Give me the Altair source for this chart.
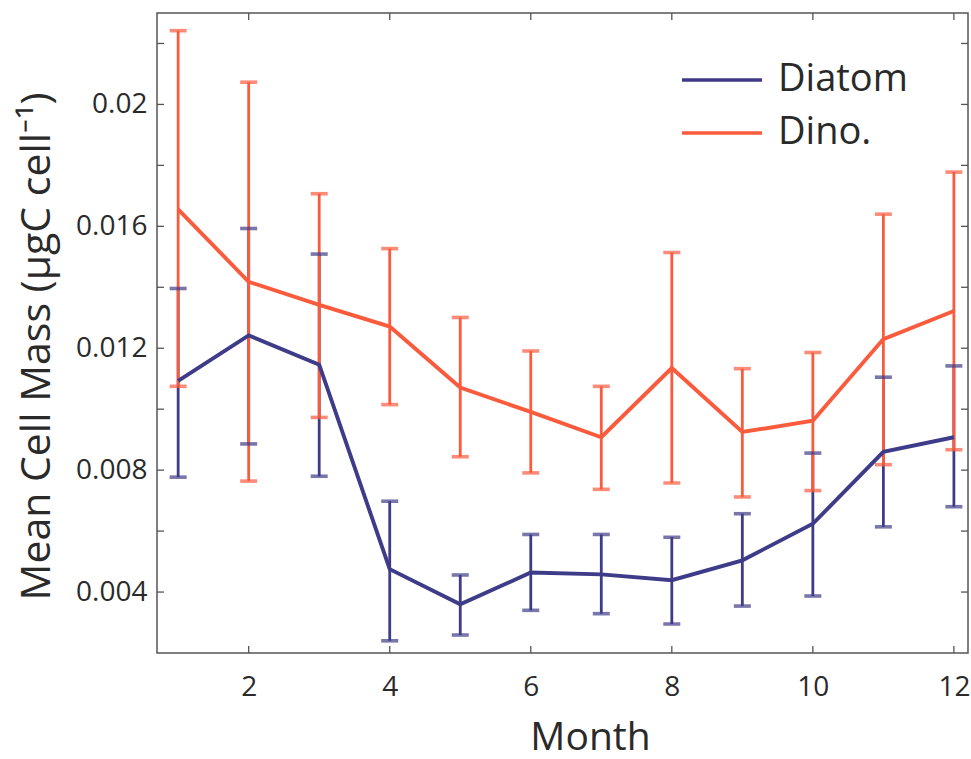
import altair as alt
import pandas as pd

months = [1, 2, 3, 4, 5, 6, 7, 8, 9, 10, 11, 12]

diatom_mean = [0.01093, 0.01242, 0.01146, 0.00475, 0.00360, 0.00464, 0.00458, 0.00439, 0.00504, 0.00624, 0.00860, 0.00908]
diatom_low = [0.00777, 0.00886, 0.00780, 0.00240, 0.00259, 0.00340, 0.00329, 0.00295, 0.00354, 0.00387, 0.00614, 0.00680]
diatom_high = [0.01396, 0.01593, 0.01509, 0.00698, 0.00456, 0.00589, 0.00589, 0.00580, 0.00657, 0.00856, 0.01105, 0.01142]

dino_mean = [0.01656, 0.01418, 0.01342, 0.01271, 0.01071, 0.00991, 0.00908, 0.01135, 0.00925, 0.00962, 0.01230, 0.01322]
dino_low = [0.01075, 0.00764, 0.00973, 0.01015, 0.00844, 0.00791, 0.00737, 0.00758, 0.00712, 0.00733, 0.00818, 0.00867]
dino_high = [0.02242, 0.02073, 0.01707, 0.01527, 0.01301, 0.01191, 0.01075, 0.01514, 0.01133, 0.01186, 0.01640, 0.01778]

series_names = ["Diatom", "Dino."]
series_colors = ["#3e3c88", "#fb5b3d"]

x_ticks = [2, 4, 6, 8, 10, 12]
y_ticks = [0.004, 0.006, 0.008, 0.010, 0.012, 0.014, 0.016, 0.018, 0.020, 0.022]

rows = []
for name, m, lo, hi in [("Diatom", diatom_mean, diatom_low, diatom_high),
                        ("Dino.", dino_mean, dino_low, dino_high)]:
    for i, mo in enumerate(months):
        rows.append({"series": name, "month": mo, "mean": m[i], "low": lo[i], "high": hi[i]})
df = pd.DataFrame(rows)

W, H = 811, 640
FONT = "Open Sans"
TXT = "#2a2a2a"

xs = alt.Scale(domain=[0.7, 12.2], nice=False, zero=False)
ys = alt.Scale(domain=[0.002, 0.023], nice=False, zero=False)
cs = alt.Scale(domain=series_names, range=series_colors)

color_enc = alt.Color("series:N", scale=cs, sort=series_names,
                      legend=alt.Legend(title=None, orient="none", legendX=523, legendY=45,
                                        symbolType="M-1,0H3", symbolSize=1600, symbolStrokeWidth=3.6,
                                        symbolOpacity=1,
                                        labelFontSize=38, labelFont=FONT, labelColor=TXT,
                                        rowPadding=12, labelOffset=54))

x_enc = alt.X("month:Q", scale=xs,
              axis=alt.Axis(values=x_ticks, format="d", ticks=False, domain=False, grid=False,
                            labelFontSize=28, labelPadding=20, labelFont=FONT, labelColor=TXT,
                            title="Month", titleFontSize=39, titleFont=FONT, titleFontWeight="normal",
                            titleColor=TXT, titleX=433, titleY=96, titleBaseline="alphabetic"))
y_axis = alt.Axis(values=y_ticks, ticks=False, domain=False, grid=False,
                  labelExpr="round(datum.value*1000) % 4 == 0 ? format(datum.value, '.3~f') : ''",
                  labelFontSize=28, labelPadding=10, labelFont=FONT, labelColor=TXT,
                  title="Mean Cell Mass (µgC cell⁻¹)", titleFontSize=41, titleFont=FONT,
                  titleFontWeight="normal", titleColor=TXT, titlePadding=17, titleY=333)

base = alt.Chart(df)

rules = base.mark_rule(strokeWidth=2.8).encode(
    x=x_enc,
    y=alt.Y("low:Q", scale=ys, axis=y_axis),
    y2="high:Q",
    color=color_enc,
)

caps_low = base.mark_tick(orient="horizontal", size=17, thickness=3.6).encode(
    x=alt.X("month:Q", scale=xs), y=alt.Y("low:Q", scale=ys), color=color_enc)
caps_high = base.mark_tick(orient="horizontal", size=17, thickness=3.6).encode(
    x=alt.X("month:Q", scale=xs), y=alt.Y("high:Q", scale=ys), color=color_enc)

lines = base.mark_line(strokeWidth=3.9).encode(
    x=alt.X("month:Q", scale=xs),
    y=alt.Y("mean:Q", scale=ys),
    color=color_enc,
    order="month:Q",
)

# inward frame ticks
xt = pd.DataFrame({"v": x_ticks})
yt = pd.DataFrame({"v": y_ticks})
tick_col = "#555"
bot = alt.Chart(xt).mark_rule(color=tick_col, strokeWidth=1.3).encode(
    x=alt.X("v:Q", scale=xs), y=alt.value(H), y2=alt.value(H - 7))
top = alt.Chart(xt).mark_rule(color=tick_col, strokeWidth=1.3).encode(
    x=alt.X("v:Q", scale=xs), y=alt.value(0), y2=alt.value(7))
lef = alt.Chart(yt).mark_rule(color=tick_col, strokeWidth=1.3).encode(
    y=alt.Y("v:Q", scale=ys), x=alt.value(0), x2=alt.value(7))
rig = alt.Chart(yt).mark_rule(color=tick_col, strokeWidth=1.3).encode(
    y=alt.Y("v:Q", scale=ys), x=alt.value(W), x2=alt.value(W - 7))

chart = alt.layer(rules, caps_low, caps_high, lines, bot, top, lef, rig).properties(
    width=W, height=H,
    autosize=alt.AutoSizeParams(type="none"),
    padding={"left": 157, "top": 13, "right": 3, "bottom": 106},
    background="white",
).configure_view(stroke="#555", strokeWidth=1.5)

chart.save("out.html", embed_options={"renderer": "svg", "actions": False})
